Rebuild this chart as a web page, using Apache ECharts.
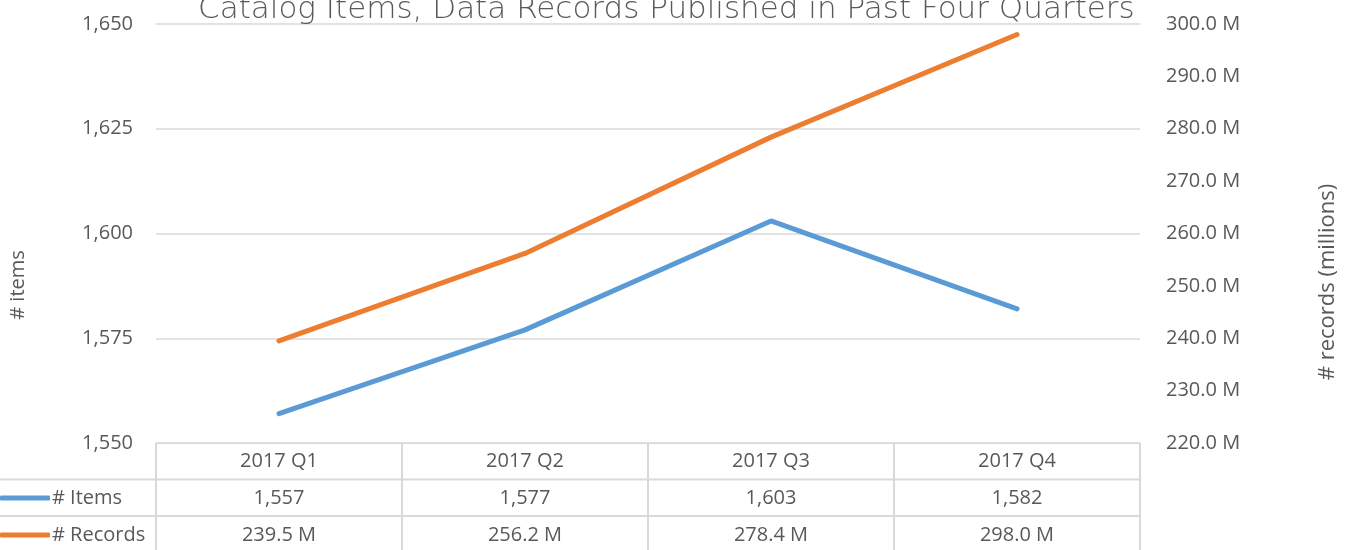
<!DOCTYPE html>
<html>
<head>
<meta charset="utf-8">
<script src="https://cdn.jsdelivr.net/npm/echarts@6/dist/echarts.min.js"></script>
<style>
  html, body { margin: 0; padding: 0; background: #fff; }
  #chart { width: 1356px; height: 550px; }
</style>
</head>
<body>
<div id="chart"></div>
<script>
// data
const quarters = ["2017 Q1", "2017 Q2", "2017 Q3", "2017 Q4"];
const items = [1557, 1577, 1603, 1582];
const records = [239.5, 256.2, 278.4, 298.0];

const itemsTicks = { min: 1550, max: 1650, interval: 25 };
const recordsTicks = { min: 220, max: 300, interval: 10 };

const fmtItems = (v) => v.toLocaleString("en-US");
const fmtRecords = (v) => v.toFixed(1) + " M";

const gridLeft = 156, gridRight = 1140, gridTop = 24, gridBottom = 443;
const rowH = 36.5;
const lineColor = "#d9d9d9";
const textColor = "#595959";
const labelFont = "'Open Sans', sans-serif";

let chart = echarts.init(document.getElementById("chart"));
chart.setOption({
  animation: false,
  title: {
    text: "Catalog Items, Data Records Published in Past Four Quarters",
    left: 193,
    top: -11,
    textStyle: {
      fontFamily: "DejaVu Sans",
      fontWeight: 200,
      fontSize: 31,
      color: textColor,
    },
  },
  grid: {
    left: gridLeft,
    right: 1356 - gridRight,
    top: gridTop,
    bottom: 550 - gridBottom,
    outerBoundsMode: "none",
  },
  xAxis: {
    type: "category",
    data: quarters,
    axisLine: { lineStyle: { color: lineColor, width: 1 } },
    axisTick: {
      show: true,
      length: 110,
      lineStyle: { color: lineColor, width: 2 },
    },
    axisLabel: {
      margin: 0,
      interval: 0,
      color: textColor,
      fontFamily: labelFont,
      fontSize: 20,
      lineHeight: 37,
      formatter: (val, idx) =>
        val + "\n" + fmtItems(items[idx]) + "\n" + fmtRecords(records[idx]),
    },
  },
  yAxis: [
    {
      type: "value",
      min: itemsTicks.min,
      max: itemsTicks.max,
      interval: itemsTicks.interval,
      axisLine: { show: false },
      axisTick: { show: false },
      splitLine: { lineStyle: { color: lineColor, width: 1.5 } },
      axisLabel: {
        margin: 23,
        color: textColor,
        fontFamily: labelFont,
        fontSize: 20,
        formatter: fmtItems,
      },
    },
    {
      type: "value",
      min: recordsTicks.min,
      max: recordsTicks.max,
      interval: recordsTicks.interval,
      axisLine: { show: false },
      axisTick: { show: false },
      splitLine: { show: false },
      axisLabel: {
        margin: 26,
        color: textColor,
        fontFamily: labelFont,
        fontSize: 20,
        formatter: fmtRecords,
      },
    },
  ],
  legend: {
    orient: "vertical",
    left: 0,
    top: 488,
    padding: 0,
    itemGap: 17,
    itemWidth: 50,
    itemHeight: 5,
    icon: "roundRect",
    textStyle: {
      color: textColor,
      fontFamily: labelFont,
      fontSize: 20,
      padding: [0, 0, 0, -3],
    },
  },
  series: [
    {
      name: "# Items",
      type: "line",
      data: items,
      yAxisIndex: 0,
      showSymbol: false,
      color: "#5b9bd5",
      lineStyle: { width: 5, cap: "round" },
    },
    {
      name: "# Records",
      type: "line",
      data: records,
      yAxisIndex: 1,
      showSymbol: false,
      color: "#ed7d31",
      lineStyle: { width: 5, cap: "round" },
    },
  ],
  graphic: [
    // table row separators
    {
      type: "line",
      shape: { x1: 0, y1: gridBottom + rowH, x2: gridRight, y2: gridBottom + rowH },
      style: { stroke: lineColor, lineWidth: 2 },
    },
    {
      type: "line",
      shape: { x1: 0, y1: gridBottom + rowH * 2, x2: gridRight, y2: gridBottom + rowH * 2 },
      style: { stroke: lineColor, lineWidth: 2 },
    },
    // axis titles
    {
      type: "text",
      x: 18,
      y: 285,
      rotation: Math.PI / 2,
      style: {
        text: "# items",
        fill: textColor,
        fontFamily: labelFont,
        fontSize: 20,
        align: "center",
        verticalAlign: "middle",
      },
    },
    {
      type: "text",
      x: 1328,
      y: 282,
      rotation: Math.PI / 2,
      style: {
        text: "# records (millions)",
        fill: textColor,
        fontFamily: labelFont,
        fontSize: 22,
        align: "center",
        verticalAlign: "middle",
      },
    },
  ],
});
</script>
</body>
</html>
